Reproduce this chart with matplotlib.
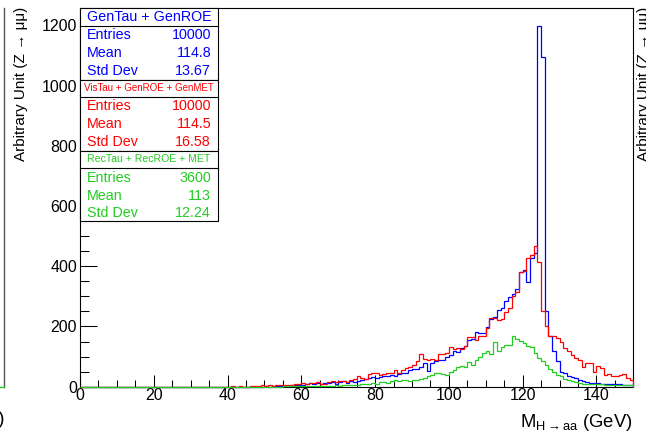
import numpy as np
import matplotlib
matplotlib.use("Agg")
import matplotlib.pyplot as plt
from matplotlib.lines import Line2D
from matplotlib.patches import Rectangle
from matplotlib.ticker import MultipleLocator

plt.rcParams['font.family'] = ['Liberation Sans', 'DejaVu Sans']
plt.rcParams['mathtext.fontset'] = 'custom'
plt.rcParams['mathtext.rm'] = 'Liberation Sans'
plt.rcParams['mathtext.it'] = 'Liberation Sans:italic'
plt.rcParams['mathtext.bf'] = 'Liberation Sans:bold'

# ---- histogram contents: 1 GeV bins from 0 to 150 GeV ----
x_min, x_max, n_bins = 0, 150, 150
first_filled_bin = 40   # bins below this are empty for all three samples

gen_counts = [
    0, 0, 0, 0, 0, 0, 0, 0, 0, 0,
    1, 0, 1, 1, 2, 2, 3, 4, 5, 5,
    6, 9, 12, 9, 12, 9, 12, 12, 14, 9,
    16, 18, 12, 18, 16, 18, 21, 25, 29, 32,
    29, 32, 36, 34, 40, 36, 43, 45, 47, 54,
    58, 58, 67, 78, 52, 78, 84, 89, 89, 98,
    106, 117, 114, 128, 134, 156, 158, 183, 178, 180,
    198, 224, 230, 255, 263, 285, 297, 308, 323, 380,
    388, 349, 427, 443, 1197, 1095, 250, 167, 117, 84,
    50, 45, 34, 31, 29, 22, 18, 15, 13, 13,
    13, 10, 10, 9, 9, 8, 8, 7, 7, 6,
]

vis_counts = [
    0, 3, 0, 3, 0, 0, 3, 3, 3, 4,
    3, 4, 3, 4, 4, 5, 6, 6, 8, 9,
    12, 9, 12, 12, 14, 10, 10, 16, 18, 14,
    20, 18, 14, 21, 25, 34, 29, 25, 43, 45,
    45, 40, 43, 45, 47, 54, 47, 56, 62, 64,
    73, 84, 109, 92, 89, 92, 89, 109, 109, 112,
    131, 125, 128, 125, 134, 165, 165, 156, 169, 169,
    195, 228, 228, 220, 226, 248, 263, 300, 316, 382,
    385, 427, 438, 468, 415, 250, 200, 167, 169, 161,
    150, 128, 117, 106, 95, 89, 67, 78, 78, 50,
    70, 62, 40, 43, 37, 37, 40, 43, 29, 23,
]

rec_counts = [
    0, 0, 0, 0, 0, 0, 0, 0, 0, 0,
    0, 0, 0, 0, 0, 1, 1, 1, 1, 1,
    2, 2, 2, 2, 2, 3, 3, 3, 3, 4,
    3, 4, 4, 5, 4, 5, 10, 8, 8, 12,
    10, 14, 14, 13, 18, 21, 20, 23, 21, 20,
    23, 21, 25, 29, 34, 38, 47, 47, 43, 40,
    50, 56, 67, 68, 65, 81, 73, 89, 100, 112,
    120, 109, 147, 120, 131, 139, 139, 167, 160, 153,
    146, 134, 131, 112, 95, 87, 73, 58, 50, 40,
    34, 25, 22, 18, 15, 13, 10, 10, 8, 8,
    8, 8, 6, 6, 6, 6, 5, 5, 5, 5,
]

# statistics boxes: title, entries, mean, std dev
stat_titles = ["GenTau + GenROE", "VisTau + GenROE + GenMET", "RecTau + RecROE + MET"]
stat_entries = ["10000", "10000", "3600"]
stat_means = ["114.8", "114.5", "113"]
stat_stddevs = ["13.67", "16.58", "12.24"]

x_ticks = [0, 20, 40, 60, 80, 100, 120, 140]
y_ticks = [0, 200, 400, 600, 800, 1000, 1200]
y_label = "Arbitrary Unit (Z \u2192 \u03bc\u03bc)"
x_label = r"M$_{\mathrm{H\rightarrow aa}}$ (GeV)"

BLUE, RED, GREEN = "#0000ff", "#ff0000", "#22cc22"
colors = [BLUE, RED, GREEN]

W, H = 646, 433
fig = plt.figure(figsize=(W / 100, H / 100), dpi=100)
fig.patch.set_facecolor("white")


def fx(px):
    return px / W


def fy(py):
    return 1 - py / H


ax_left, ax_right, ax_top, ax_bottom = 80.0, 633.3, 8.3, 386.7
ax = fig.add_axes([fx(ax_left), fy(ax_bottom),
                   fx(ax_right) - fx(ax_left), fy(ax_top) - fy(ax_bottom)])

edges = np.linspace(x_min, x_max, n_bins + 1)


def full(counts):
    return np.concatenate([np.zeros(first_filled_bin), np.asarray(counts, float)])


for counts, c in zip([gen_counts, vis_counts, rec_counts], colors):
    ax.stairs(full(counts), edges, color=c, linewidth=0.9, zorder=3, clip_on=False)

peak = max(max(gen_counts), max(vis_counts), max(rec_counts))
ax.set_xlim(x_min, x_max)
ax.set_ylim(0, peak * 1.05)

ax.set_xticks(x_ticks)
ax.set_yticks(y_ticks)
ax.xaxis.set_minor_locator(MultipleLocator(5))
ax.yaxis.set_minor_locator(MultipleLocator(50))
ax.tick_params(axis="both", which="both", direction="in", top=False, right=False,
               width=0.75, color="black", labelsize=11.5)
ax.tick_params(axis="y", which="major", length=12, pad=2.2)
ax.tick_params(axis="y", which="minor", length=6.7)
ax.tick_params(axis="x", which="major", length=8.9, pad=1.2)
ax.tick_params(axis="x", which="minor", length=4.8)
for s in ax.spines.values():
    s.set_linewidth(0.8)
    s.set_color("black")

# axis titles
fig.text(fx(21.5), fy(6.5), y_label, rotation=90, ha="center", va="top", fontsize=11)
fig.text(fx(633), fy(427), x_label, ha="right", va="baseline", fontsize=13.3)

# neighbouring pads at the edges of the canvas
fig.text(fx(637), fy(7), y_label, rotation=90, ha="left", va="top", fontsize=11)
fig.text(fx(5), fy(424), "(GeV)", ha="right", va="baseline", fontsize=13.3)
fig.add_artist(Line2D([fx(4), fx(4)], [fy(8.3), fy(386.7)], color="#555555", lw=1.0))
fig.add_artist(Line2D([fx(0), fx(4)], [fy(386.7), fy(386.7)], color=GREEN, lw=1.0))

# statistics boxes
box_x0, box_x1 = 80.0, 218.3
boxes = [(8.3, 25.7, 80.0), (80.0, 96.7, 150.7), (150.7, 168.3, 220.7)]
title_sizes = [10.3, 7.0, 7.6]
row_offsets = [9.3, 27.3, 45.0]
for i, (top, split, bottom) in enumerate(boxes):
    c = colors[i]
    fig.add_artist(Rectangle((fx(box_x0), fy(bottom)), fx(box_x1) - fx(box_x0),
                             fy(top) - fy(bottom), facecolor="white",
                             edgecolor="black", lw=0.8, zorder=5))
    fig.add_artist(Line2D([fx(box_x0), fx(box_x1)], [fy(split), fy(split)],
                          color="black", lw=0.8, zorder=6))
    fig.text(fx((box_x0 + box_x1) / 2), fy((top + split) / 2), stat_titles[i],
             color=c, ha="center", va="center", fontsize=title_sizes[i], zorder=7)
    values = [stat_entries[i], stat_means[i], stat_stddevs[i]]
    for name, val, off in zip(["Entries", "Mean", "Std Dev"], values, row_offsets):
        yy = fy(split + off)
        fig.text(fx(86.7), yy, name, color=c, ha="left", va="center",
                 fontsize=10.3, zorder=7)
        fig.text(fx(211), yy, val, color=c, ha="right", va="center",
                 fontsize=10.3, zorder=7)

fig.savefig("out.png", dpi=100)
